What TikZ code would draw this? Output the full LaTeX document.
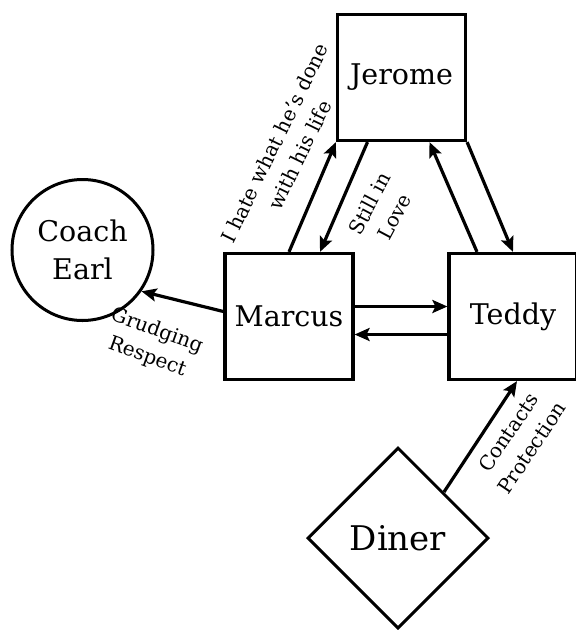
\documentclass[tikz,border=0pt]{standalone}
\usepackage{fontspec}
\setmainfont{DejaVu Serif}
\usetikzlibrary{positioning,calc,arrows.meta,shapes.geometric}

\begin{document}
\begin{tikzpicture}[
    x=1pt, y=-1pt,
    person/.style={draw, line width=3.2pt, minimum width=128pt, minimum height=126pt, inner sep=0pt, font=\fontsize{28.5}{32}\selectfont},
    coachnode/.style={draw, circle, line width=3pt, minimum size=141pt, inner sep=0pt, align=center, font=\fontsize{28.5}{38}\selectfont},
    placenode/.style={draw, diamond, aspect=1, line width=3pt, minimum size=181pt, inner sep=0pt, font=\fontsize{34}{40}\selectfont},
    rel/.style={align=center, font=\fontsize{20}{28}\selectfont},
    arrow/.style={-{Stealth[length=15pt, width=13pt, inset=3pt]}, line width=3.2pt},
]
\useasboundingbox (0,0) rectangle (576,630);

% people
\node[person] (jerome) at (401.5, 77.5) {Jerome};
\node[person] (marcus) at (289, 316.5) {Marcus};
\node[person] (teddy) at (513, 316.5) {Teddy};
\node[coachnode] (coach) at (82.5, 250) {Coach\\Earl};

% place
\node[placenode] (diner) at (398, 538) {Diner};

% Marcus <-> Jerome
\draw[arrow] (marcus.north) -- (jerome.south west);
\draw[arrow] ([xshift=-34pt]jerome.south) -- ([xshift=31pt]marcus.north);
\node[rel, rotate=64] (hate) at (287, 149) {I hate what he's done\\with his life};
\node[rel, rotate=62] (love) at (382, 210) {Still in\\Love};

% Teddy <-> Jerome
\draw[arrow] ([xshift=-36pt]teddy.north) -- ([xshift=28pt]jerome.south);
\draw[arrow] (jerome.south east) -- (teddy.north);

% Marcus <-> Teddy
\draw[arrow] ([yshift=10pt]marcus.east) -- ([yshift=10pt]teddy.west);
\draw[arrow] ([yshift=-18pt]teddy.west) -- ([yshift=-18pt]marcus.east);

% Marcus -> Coach Earl
\draw[arrow] ([yshift=5pt]marcus.west) -- (coach.-35);
\node[rel, rotate=-20] (respect) at (152, 344) {Grudging\\Respect};

% Diner -> Teddy
\draw[arrow] (diner.north east) -- ([xshift=4pt]teddy.south);
\node[rel, rotate=56] (protect) at (520, 440) {Contacts\\Protection};
\end{tikzpicture}
\end{document}
